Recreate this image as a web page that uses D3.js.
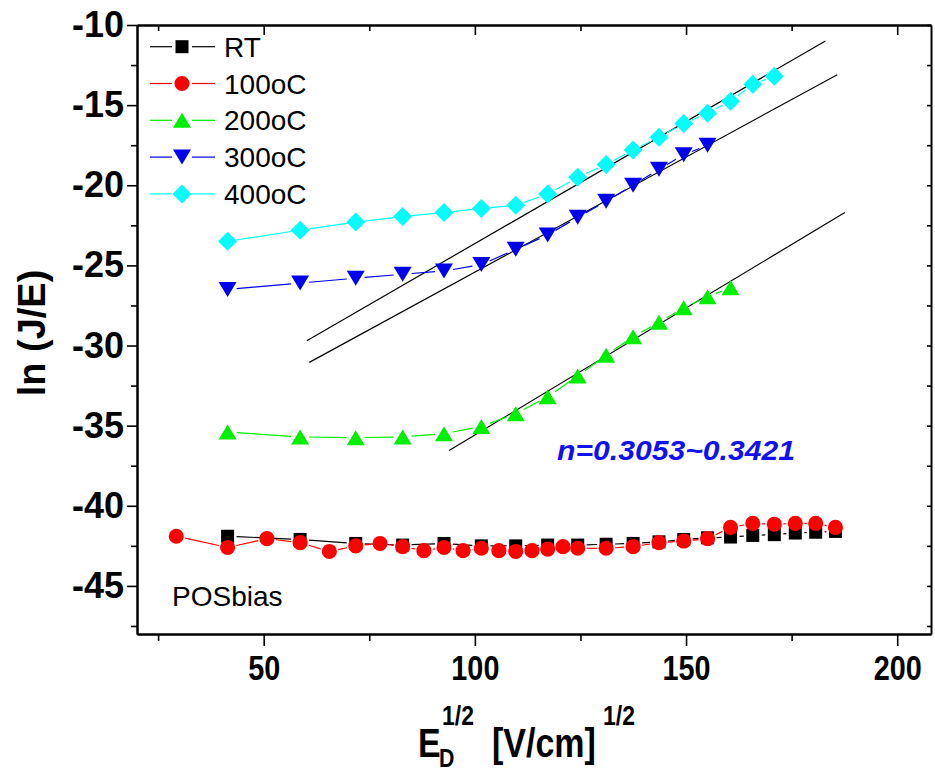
<!DOCTYPE html>
<html>
<head>
<meta charset="utf-8">
<script src="https://cdn.jsdelivr.net/npm/d3@7/dist/d3.min.js"></script>
<style>
body { margin: 0; background: #fff; }
svg { font-family: "Liberation Sans", Arial, sans-serif; }
</style>
</head>
<body>
<svg id="chart" width="935" height="775"></svg>
<script>
// field steps E^1/2
const xSteps = [41.45, 58.62, 71.79, 82.90, 92.69, 101.53, 109.67, 117.24, 124.35, 131.08,
  137.47, 143.59, 149.45, 155.09, 160.54, 165.80, 170.90, 175.87, 180.70, 185.37]
const x100 = [29.3, 41.45, 50.77, 58.62, 65.54, 71.79, 77.55, 82.90, 87.93, 92.69, 97.21,
  101.53, 105.68, 109.67, 113.52, 117.24, 120.85, 124.35, 131.08, 137.47, 143.59, 149.45,
  155.09, 160.54, 165.80, 170.90, 175.87, 180.70, 185.37]

const yRT = [-41.9, -42.1, -42.35, -42.45, -42.35, -42.5, -42.5, -42.45, -42.45, -42.4,
  -42.35, -42.25, -42.1, -42.0, -41.95, -41.85, -41.8, -41.7, -41.65, -41.6]
const y100 = [-41.9, -42.6, -42.05, -42.3, -42.85, -42.5, -42.35, -42.55, -42.8, -42.6,
  -42.8, -42.65, -42.8, -42.85, -42.8, -42.7, -42.55, -42.65, -42.65, -42.55, -42.3, -42.2,
  -42.05, -41.35, -41.1, -41.15, -41.1, -41.1, -41.35]
const y200 = [-35.4, -35.7, -35.75, -35.7, -35.5, -35.05, -34.25, -33.2, -31.9, -30.6,
  -29.45, -28.55, -27.65, -26.95, -26.4]
const y300 = [-26.5, -26.1, -25.8, -25.55, -25.35, -24.95, -24.0, -23.1, -22.0, -21.0,
  -20.0, -19.0, -18.1, -17.5]
const y400 = [-23.5, -22.8, -22.3, -21.95, -21.7, -21.45, -21.25, -20.55, -19.5, -18.7,
  -17.8, -17.0, -16.15, -15.5, -14.75, -13.7, -13.2]

// linear fits (end points)
const fitX = [[60.2, 183.0], [60.8, 185.8], [93.9, 187.6]]
const fitY = [[-29.7, -11.0], [-31.05, -13.1], [-36.55, -21.7]]

const seriesNames = ["RT", "100oC", "200oC", "300oC", "400oC"]
const seriesColors = ["#000000", "#ff0000", "#00ee00", "#0000ee", "#00ffff"]
const seriesShapes = ["square", "circle", "up", "down", "diamond"]

const xMajor = [50, 100, 150, 200]
const xMinor = [25, 75, 125, 175]
const yMajor = [-10, -15, -20, -25, -30, -35, -40, -45]
const yMinor = [-12.5, -17.5, -22.5, -27.5, -32.5, -37.5, -42.5, -47.5]

var svg = d3.select("#chart")
var x = d3.scaleLinear().domain([20, 208]).range([137, 931])
var y = d3.scaleLinear().domain([-48, -10]).range([634, 25])

function shapePath(s) {
  if (s == "square") return d3.symbol().type(d3.symbolSquare).size(169)()
  if (s == "circle") return d3.symbol().type(d3.symbolCircle).size(180)()
  if (s == "up") return "M0,-7.5L9,7.5L-9,7.5Z"
  if (s == "down") return "M-9,-7.5L9,-7.5L0,7.5Z"
  return "M0,-9.5L9.5,0L0,9.5L-9.5,0Z"
}

// axes: bottom/left outward, top/right inward
function styleAxis(g) {
  g.select(".domain").attr("stroke", "#000").attr("stroke-width", 2)
  g.selectAll(".tick line").attr("stroke", "#000").attr("stroke-width", 1.6)
}
svg.append("g").attr("transform", "translate(0,634)")
  .call(d3.axisBottom(x).tickValues(xMinor).tickSize(7).tickSizeOuter(0).tickFormat(""))
  .call(styleAxis)
var xAx = svg.append("g").attr("transform", "translate(0,634)")
  .call(d3.axisBottom(x).tickValues(xMajor).tickSize(12).tickPadding(8).tickSizeOuter(0).tickFormat(d => String(d)))
  .call(styleAxis)
xAx.selectAll("text").attr("font-size", 36).attr("font-weight", "bold")
  .attr("font-family", "Liberation Sans").attr("fill", "#000").attr("transform", "scale(0.8,1)")

svg.append("g").attr("transform", "translate(0,25)")
  .call(d3.axisBottom(x).tickValues(xMinor).tickSize(6).tickSizeOuter(0).tickFormat(""))
  .call(styleAxis)
svg.append("g").attr("transform", "translate(0,25)")
  .call(d3.axisBottom(x).tickValues(xMajor).tickSize(10).tickSizeOuter(0).tickFormat(""))
  .call(styleAxis)

svg.append("g").attr("transform", "translate(137,0)")
  .call(d3.axisLeft(y).tickValues(yMinor).tickSize(6).tickSizeOuter(0).tickFormat(""))
  .call(styleAxis)
// plain hyphen for the minus sign, as in the original
var yAx = svg.append("g").attr("transform", "translate(137,0)")
  .call(d3.axisLeft(y).tickValues(yMajor).tickSize(10).tickPadding(3).tickSizeOuter(0).tickFormat(d => String(d)))
  .call(styleAxis)
yAx.selectAll("text").attr("font-size", 36).attr("font-weight", "bold")
  .attr("font-family", "Liberation Sans").attr("fill", "#000")

svg.append("g").attr("transform", "translate(931,0)")
  .call(d3.axisLeft(y).tickValues(yMajor.concat(yMinor)).tickSize(4).tickSizeOuter(0).tickFormat(""))
  .call(styleAxis)

// fit lines
for (var f = 0; f < fitX.length; f++) {
  svg.append("line").attr("x1", x(fitX[f][0])).attr("y1", y(fitY[f][0]))
    .attr("x2", x(fitX[f][1])).attr("y2", y(fitY[f][1]))
    .attr("stroke", "#000").attr("stroke-width", 1.2)
}

// lines leave a gap around each symbol, like Origin does
function drawSeries(xs, ys, color, shape) {
  var pts = xs.map(function(v, i) { return [x(v), y(ys[i])] })
  var gap = 9
  for (var i = 0; i < pts.length - 1; i++) {
    var dx = pts[i + 1][0] - pts[i][0]
    var dy = pts[i + 1][1] - pts[i][1]
    var len = Math.sqrt(dx * dx + dy * dy)
    if (len <= 2 * gap) continue
    var ux = dx / len, uy = dy / len
    svg.append("line")
      .attr("x1", pts[i][0] + ux * gap).attr("y1", pts[i][1] + uy * gap)
      .attr("x2", pts[i + 1][0] - ux * gap).attr("y2", pts[i + 1][1] - uy * gap)
      .attr("stroke", color).attr("stroke-width", 1.2)
  }
  svg.append("g").selectAll("path").data(pts).enter().append("path")
    .attr("d", shapePath(shape))
    .attr("transform", function(p) { return "translate(" + p[0] + "," + p[1] + ")" })
    .attr("fill", color)
}

drawSeries(xSteps, yRT, seriesColors[0], seriesShapes[0])
drawSeries(x100, y100, seriesColors[1], seriesShapes[1])
drawSeries(xSteps.slice(0, y200.length), y200, seriesColors[2], seriesShapes[2])
drawSeries(xSteps.slice(0, y300.length), y300, seriesColors[3], seriesShapes[3])
drawSeries(xSteps.slice(0, y400.length), y400, seriesColors[4], seriesShapes[4])

// legend
for (var i = 0; i < seriesNames.length; i++) {
  var ly = 46.7 + i * 36.8
  svg.append("line").attr("x1", 150).attr("x2", 172).attr("y1", ly).attr("y2", ly)
    .attr("stroke", seriesColors[i]).attr("stroke-width", 1.2)
  svg.append("line").attr("x1", 192).attr("x2", 215).attr("y1", ly).attr("y2", ly)
    .attr("stroke", seriesColors[i]).attr("stroke-width", 1.2)
  svg.append("path").attr("d", shapePath(seriesShapes[i]))
    .attr("transform", "translate(182," + ly + ")").attr("fill", seriesColors[i])
  svg.append("text").attr("x", 224).attr("y", ly + 10).attr("font-size", 28)
    .attr("fill", "#000").text(seriesNames[i])
}

svg.append("text").attr("x", 172).attr("y", 606).attr("font-size", 28).text("POSbias")

svg.append("text").attr("x", 557).attr("y", 460).attr("font-size", 28)
  .attr("font-weight", "bold").attr("font-style", "italic").attr("fill", "#1010f0")
  .attr("textLength", 238).attr("lengthAdjust", "spacingAndGlyphs")
  .text("n=0.3053~0.3421")

// axis titles
svg.append("text").attr("transform", "translate(45,333) rotate(-90)")
  .attr("text-anchor", "middle").attr("font-size", 38).attr("font-weight", "bold")
  .text("ln (J/E)")

function condensed(tx, ty, size, str) {
  svg.append("text").attr("transform", "translate(" + tx + "," + ty + ") scale(0.85,1)")
    .attr("font-size", size).attr("font-weight", "bold").text(str)
}
condensed(418, 757, 40, "E")
condensed(442, 725, 27, "1/2")
condensed(439, 767, 25, "D")
condensed(492, 757, 40, "[V/cm]")
condensed(603, 725, 27, "1/2")
</script>
</body>
</html>
